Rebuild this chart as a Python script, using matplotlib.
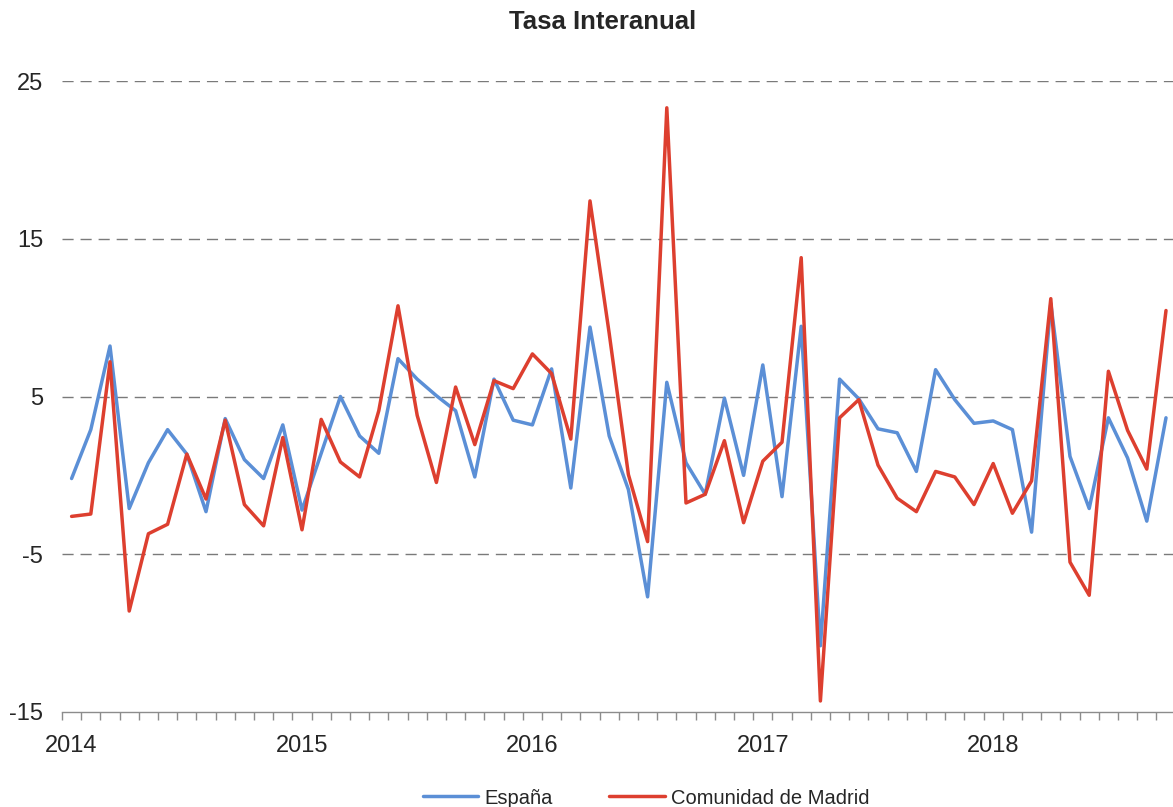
import matplotlib
matplotlib.use("Agg")
import matplotlib.pyplot as plt
import numpy as np

plt.rcParams['font.family'] = ['Liberation Sans', 'DejaVu Sans']

years = ["2014", "2015", "2016", "2017", "2018"]

espana = [
    -0.2, 2.9, 8.2, -2.1, 0.8, 2.9, 1.35, -2.3, 3.6, 1.0, -0.2, 3.2,
    -2.2, 1.4, 5.0, 2.5, 1.4, 7.4, 6.1, 5.05, 4.1, -0.1, 6.1, 3.5,
    3.2, 6.75, -0.8, 9.4, 2.5, -0.9, -7.7, 5.9, 0.8, -1.2, 4.9, 0.0,
    7.0, -1.35, 9.45, -10.8, 6.1, 4.85, 2.95, 2.7, 0.25, 6.7, 4.8, 3.3,
    3.45, 2.9, -3.6, 10.9, 1.2, -2.1, 3.65, 1.1, -2.9, 3.65,
]
madrid = [
    -2.6, -2.45, 7.2, -8.6, -3.7, -3.1, 1.35, -1.5, 3.5, -1.85, -3.2, 2.4,
    -3.45, 3.55, 0.85, -0.1, 4.1, 10.75, 3.8, -0.45, 5.6, 1.95, 6.0, 5.5,
    7.7, 6.45, 2.3, 17.4, 9.0, 0.05, -4.2, 23.3, -1.75, -1.2, 2.2, -3.0,
    0.9, 2.1, 13.8, -14.3, 3.65, 4.8, 0.65, -1.45, -2.3, 0.25, -0.1, -1.85,
    0.75, -2.4, -0.35, 11.2, -5.5, -7.6, 6.6, 2.85, 0.4, 10.45,
]

n = len(espana)
x = np.arange(n)

W, H = 1173, 807
fig = plt.figure(figsize=(W / 100, H / 100), dpi=100)
left, right, top, bottom = 62, 62 + 19.2 * n, 81, 712
ax = fig.add_axes([left / W, (H - bottom) / H, (right - left) / W, (bottom - top) / H])

ax.set_xlim(-0.5, n - 0.5)
ax.set_ylim(-15, 25)

for yv in [25, 15, 5, -5]:
    ax.axhline(yv, color='#7a7a7a', lw=1.0, ls=(0, (8, 5)), zorder=1)

ax.plot(x, espana, color='#5B8FD6', lw=2.5, solid_joinstyle='round',
        solid_capstyle='round', label='España', zorder=3)
ax.plot(x, madrid, color='#DD3F2F', lw=2.5, solid_joinstyle='round',
        solid_capstyle='round', label='Comunidad de Madrid', zorder=4)

for s in ['top', 'right', 'left']:
    ax.spines[s].set_visible(False)
ax.spines['bottom'].set_color('#8c8c8c')
ax.spines['bottom'].set_linewidth(1.0)

ax.set_yticks([25, 15, 5, -5, -15])
ax.set_yticklabels(['25', '15', '5', '-5', '-15'])
ax.tick_params(axis='y', length=0, pad=13.5, labelsize=17, labelcolor='#262626')

ax.set_xticks(np.arange(-0.5, n, 1.0))
ax.set_xticklabels([])
ax.tick_params(axis='x', which='major', direction='out', length=6,
               color='#8c8c8c', width=1.0)
ax.set_xticks([0, 12, 24, 36, 48], minor=True)
ax.set_xticklabels(years, minor=True)
ax.tick_params(axis='x', which='minor', length=0, pad=16.5, labelsize=17,
               labelcolor='#262626')

fig.text(603 / W, 1 - 22 / H, 'Tasa Interanual', ha='center', va='center',
         fontsize=18.5, fontweight='bold', color='#262626')

leg = fig.legend(loc='center', bbox_to_anchor=(646 / W, 1 - 798 / H), ncol=2,
                 frameon=False, fontsize=14.5, handlelength=2.75,
                 handletextpad=0.3, columnspacing=2.8, borderaxespad=0)
for t in leg.get_texts():
    t.set_color('#262626')

fig.savefig('out.png', dpi=100)
